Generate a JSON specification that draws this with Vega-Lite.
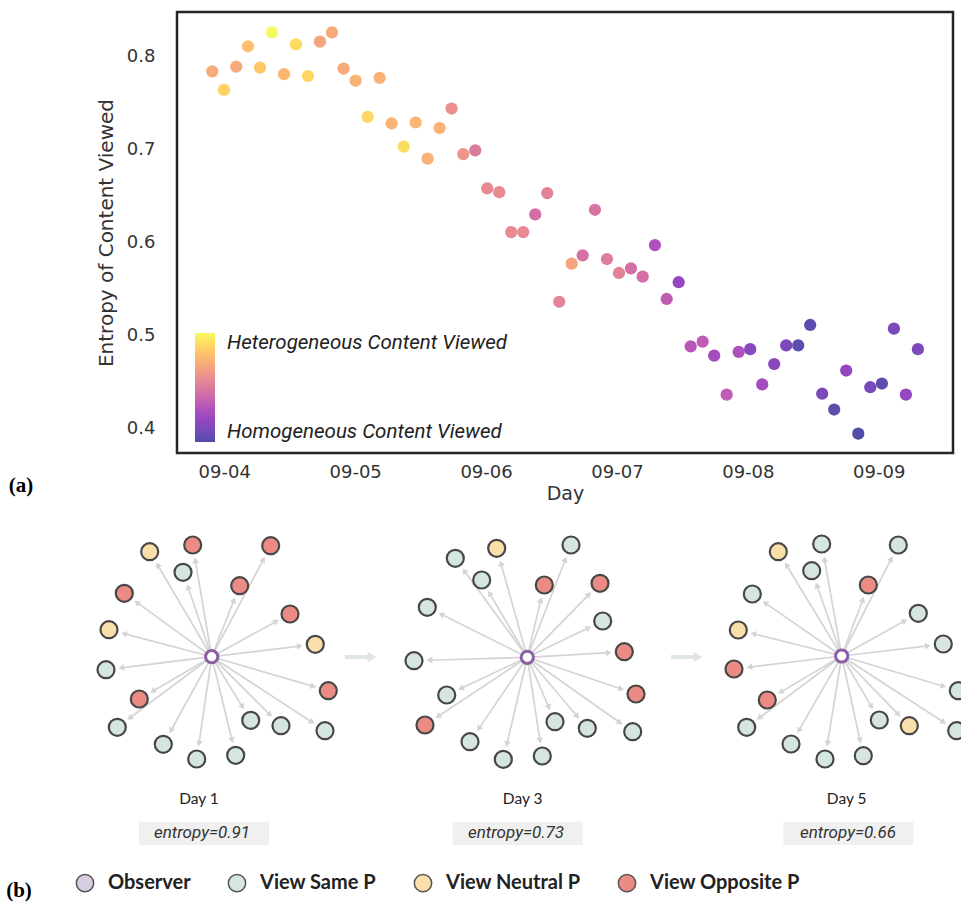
{
  "$schema": "https://vega.github.io/schema/vega-lite/v6.json",
  "width": 776,
  "height": 441,
  "autosize": {"type": "none"},
  "padding": {"left": 177, "top": 12, "right": 8, "bottom": 449},
  "background": "white",
  "config": {"view": {"stroke": "#262626", "strokeWidth": 2.5}, "font": "Roboto"},
  "datasets": {
    "scatter": [
      {"t": "2021-09-03T21:48", "e": 0.784, "c": 0.72},
      {"t": "2021-09-03T23:57", "e": 0.764, "c": 0.87},
      {"t": "2021-09-04T02:12", "e": 0.789, "c": 0.72},
      {"t": "2021-09-04T04:21", "e": 0.811, "c": 0.80},
      {"t": "2021-09-04T06:33", "e": 0.788, "c": 0.83},
      {"t": "2021-09-04T08:45", "e": 0.826, "c": 1.0},
      {"t": "2021-09-04T10:57", "e": 0.781, "c": 0.77},
      {"t": "2021-09-04T13:09", "e": 0.813, "c": 0.90},
      {"t": "2021-09-04T15:21", "e": 0.779, "c": 0.88},
      {"t": "2021-09-04T17:33", "e": 0.816, "c": 0.69},
      {"t": "2021-09-04T19:45", "e": 0.826, "c": 0.72},
      {"t": "2021-09-04T21:53", "e": 0.787, "c": 0.72},
      {"t": "2021-09-05T00:05", "e": 0.774, "c": 0.75},
      {"t": "2021-09-05T02:17", "e": 0.735, "c": 0.88},
      {"t": "2021-09-05T04:29", "e": 0.777, "c": 0.75},
      {"t": "2021-09-05T06:41", "e": 0.728, "c": 0.75},
      {"t": "2021-09-05T08:53", "e": 0.703, "c": 0.90},
      {"t": "2021-09-05T11:05", "e": 0.729, "c": 0.77},
      {"t": "2021-09-05T13:17", "e": 0.690, "c": 0.75},
      {"t": "2021-09-05T15:29", "e": 0.723, "c": 0.75},
      {"t": "2021-09-05T17:41", "e": 0.744, "c": 0.60},
      {"t": "2021-09-05T19:49", "e": 0.695, "c": 0.63},
      {"t": "2021-09-05T22:01", "e": 0.699, "c": 0.50},
      {"t": "2021-09-06T00:13", "e": 0.658, "c": 0.58},
      {"t": "2021-09-06T02:25", "e": 0.654, "c": 0.58},
      {"t": "2021-09-06T04:37", "e": 0.611, "c": 0.58},
      {"t": "2021-09-06T06:49", "e": 0.611, "c": 0.58},
      {"t": "2021-09-06T09:01", "e": 0.630, "c": 0.45},
      {"t": "2021-09-06T11:13", "e": 0.653, "c": 0.54},
      {"t": "2021-09-06T13:25", "e": 0.536, "c": 0.55},
      {"t": "2021-09-06T15:42", "e": 0.577, "c": 0.68},
      {"t": "2021-09-06T17:43", "e": 0.586, "c": 0.46},
      {"t": "2021-09-06T19:58", "e": 0.635, "c": 0.47},
      {"t": "2021-09-06T22:10", "e": 0.582, "c": 0.52},
      {"t": "2021-09-07T00:22", "e": 0.567, "c": 0.54},
      {"t": "2021-09-07T02:34", "e": 0.572, "c": 0.45},
      {"t": "2021-09-07T04:43", "e": 0.563, "c": 0.45},
      {"t": "2021-09-07T06:58", "e": 0.597, "c": 0.30},
      {"t": "2021-09-07T09:07", "e": 0.539, "c": 0.36},
      {"t": "2021-09-07T11:19", "e": 0.557, "c": 0.20},
      {"t": "2021-09-07T13:31", "e": 0.488, "c": 0.33},
      {"t": "2021-09-07T15:43", "e": 0.493, "c": 0.36},
      {"t": "2021-09-07T17:50", "e": 0.478, "c": 0.25},
      {"t": "2021-09-07T20:07", "e": 0.436, "c": 0.36},
      {"t": "2021-09-07T22:19", "e": 0.482, "c": 0.30},
      {"t": "2021-09-08T00:26", "e": 0.485, "c": 0.15},
      {"t": "2021-09-08T02:38", "e": 0.447, "c": 0.25},
      {"t": "2021-09-08T04:50", "e": 0.469, "c": 0.17},
      {"t": "2021-09-08T07:02", "e": 0.489, "c": 0.12},
      {"t": "2021-09-08T09:14", "e": 0.489, "c": 0.03},
      {"t": "2021-09-08T11:26", "e": 0.511, "c": 0.03},
      {"t": "2021-09-08T13:38", "e": 0.437, "c": 0.12},
      {"t": "2021-09-08T15:50", "e": 0.420, "c": 0.03},
      {"t": "2021-09-08T18:02", "e": 0.462, "c": 0.20},
      {"t": "2021-09-08T20:15", "e": 0.394, "c": 0.0},
      {"t": "2021-09-08T22:27", "e": 0.444, "c": 0.10},
      {"t": "2021-09-09T00:35", "e": 0.448, "c": 0.03},
      {"t": "2021-09-09T02:47", "e": 0.507, "c": 0.12},
      {"t": "2021-09-09T04:59", "e": 0.436, "c": 0.20},
      {"t": "2021-09-09T07:11", "e": 0.485, "c": 0.12}
    ],
    "centers": [
      {"panel": 1, "cx": 211.7, "cy": 656.7},
      {"panel": 2, "cx": 527.3, "cy": 657.3},
      {"panel": 3, "cx": 841.7, "cy": 656}
    ],
    "nodes": [
      {"panel": 1, "x": 149.7, "y": 551.7, "type": "View Neutral P"},
      {"panel": 1, "x": 192.7, "y": 545, "type": "View Opposite P"},
      {"panel": 1, "x": 183, "y": 572.3, "type": "View Same P"},
      {"panel": 1, "x": 270.7, "y": 545.7, "type": "View Opposite P"},
      {"panel": 1, "x": 239.7, "y": 585.7, "type": "View Opposite P"},
      {"panel": 1, "x": 124.3, "y": 593.3, "type": "View Opposite P"},
      {"panel": 1, "x": 290, "y": 614, "type": "View Opposite P"},
      {"panel": 1, "x": 109, "y": 629.7, "type": "View Neutral P"},
      {"panel": 1, "x": 315.3, "y": 644.3, "type": "View Neutral P"},
      {"panel": 1, "x": 106, "y": 669.7, "type": "View Same P"},
      {"panel": 1, "x": 139.3, "y": 699, "type": "View Opposite P"},
      {"panel": 1, "x": 328.3, "y": 690.7, "type": "View Opposite P"},
      {"panel": 1, "x": 117.3, "y": 727.3, "type": "View Same P"},
      {"panel": 1, "x": 163.3, "y": 744.3, "type": "View Same P"},
      {"panel": 1, "x": 196.7, "y": 759, "type": "View Same P"},
      {"panel": 1, "x": 235.7, "y": 755.3, "type": "View Same P"},
      {"panel": 1, "x": 250.7, "y": 720.3, "type": "View Same P"},
      {"panel": 1, "x": 281, "y": 725.7, "type": "View Same P"},
      {"panel": 1, "x": 325, "y": 730.7, "type": "View Same P"},
      {"panel": 2, "x": 455.3, "y": 558.3, "type": "View Same P"},
      {"panel": 2, "x": 496.7, "y": 548.3, "type": "View Neutral P"},
      {"panel": 2, "x": 571, "y": 545, "type": "View Same P"},
      {"panel": 2, "x": 481.7, "y": 580, "type": "View Same P"},
      {"panel": 2, "x": 544.3, "y": 585, "type": "View Opposite P"},
      {"panel": 2, "x": 600, "y": 583.3, "type": "View Opposite P"},
      {"panel": 2, "x": 427.3, "y": 607.3, "type": "View Same P"},
      {"panel": 2, "x": 602.7, "y": 621, "type": "View Same P"},
      {"panel": 2, "x": 624.3, "y": 651.7, "type": "View Opposite P"},
      {"panel": 2, "x": 414, "y": 660.7, "type": "View Same P"},
      {"panel": 2, "x": 636, "y": 694, "type": "View Opposite P"},
      {"panel": 2, "x": 446.7, "y": 695, "type": "View Same P"},
      {"panel": 2, "x": 425, "y": 725, "type": "View Opposite P"},
      {"panel": 2, "x": 555, "y": 721.7, "type": "View Same P"},
      {"panel": 2, "x": 587.3, "y": 728.3, "type": "View Same P"},
      {"panel": 2, "x": 632.7, "y": 731.7, "type": "View Same P"},
      {"panel": 2, "x": 470, "y": 741.7, "type": "View Same P"},
      {"panel": 2, "x": 503.3, "y": 759.3, "type": "View Same P"},
      {"panel": 2, "x": 542.3, "y": 756, "type": "View Same P"},
      {"panel": 3, "x": 778.3, "y": 551.7, "type": "View Neutral P"},
      {"panel": 3, "x": 821.7, "y": 544, "type": "View Same P"},
      {"panel": 3, "x": 898.3, "y": 545, "type": "View Same P"},
      {"panel": 3, "x": 811.7, "y": 570.7, "type": "View Same P"},
      {"panel": 3, "x": 868.3, "y": 585, "type": "View Opposite P"},
      {"panel": 3, "x": 752.3, "y": 594, "type": "View Same P"},
      {"panel": 3, "x": 918.3, "y": 613.3, "type": "View Same P"},
      {"panel": 3, "x": 738.3, "y": 630, "type": "View Neutral P"},
      {"panel": 3, "x": 943.3, "y": 644, "type": "View Same P"},
      {"panel": 3, "x": 734, "y": 669, "type": "View Opposite P"},
      {"panel": 3, "x": 958.3, "y": 690.7, "type": "View Same P"},
      {"panel": 3, "x": 767.3, "y": 700, "type": "View Opposite P"},
      {"panel": 3, "x": 746.7, "y": 727.3, "type": "View Same P"},
      {"panel": 3, "x": 879.3, "y": 720, "type": "View Same P"},
      {"panel": 3, "x": 909.3, "y": 725.7, "type": "View Neutral P"},
      {"panel": 3, "x": 956.7, "y": 730.7, "type": "View Same P"},
      {"panel": 3, "x": 791, "y": 744, "type": "View Same P"},
      {"panel": 3, "x": 825, "y": 759, "type": "View Same P"},
      {"panel": 3, "x": 863.3, "y": 755.7, "type": "View Same P"}
    ],
    "panels": [
      {"day": "Day 1", "ent": "entropy=0.91", "lx": 199, "bx1": 139, "bx2": 269, "tx": 202},
      {"day": "Day 3", "ent": "entropy=0.73", "lx": 522.7, "bx1": 452.7, "bx2": 582.7, "tx": 516},
      {"day": "Day 5", "ent": "entropy=0.66", "lx": 846.7, "bx1": 783.3, "bx2": 913.3, "tx": 848}
    ],
    "trans": [
      {"x1": 345, "x2": 372, "y": 657},
      {"x1": 671, "x2": 698, "y": 657}
    ],
    "tags": [
      {"tag": "(a)", "x": 21, "y": 486},
      {"tag": "(b)", "x": 19, "y": 891}
    ]
  },
  "resolve": {"scale": {"x": "independent", "y": "independent"}},
  "layer": [
    {
      "data": {"name": "scatter"},
      "mark": {"type": "circle", "size": 150, "opacity": 1},
      "encoding": {
        "x": {
          "field": "t", "type": "temporal", "title": "Day",
          "scale": {"domain": [
            {"year": 2021, "month": 9, "date": 3, "hours": 15, "minutes": 20},
            {"year": 2021, "month": 9, "date": 9, "hours": 13, "minutes": 37}
          ]},
          "axis": {
            "format": "%m-%d", "tickCount": {"interval": "day", "step": 1},
            "grid": false, "ticks": false, "domain": false, "labelFlush": false,
            "labelFont": "DejaVu Sans", "labelFontSize": 18, "labelFontWeight": "normal", "labelColor": "#333",
            "labelPadding": 10,
            "titleFont": "DejaVu Sans", "titleFontSize": 19, "titleFontWeight": "normal", "titleColor": "#333",
            "titlePadding": 3
          }
        },
        "y": {
          "field": "e", "type": "quantitative", "title": "Entropy of Content Viewed",
          "scale": {"domain": [0.3732, 0.8479], "nice": false, "zero": false},
          "axis": {
            "values": [0.4, 0.5, 0.6, 0.7, 0.8], "format": ".1f",
            "grid": false, "ticks": false, "domain": false, "labelFlush": false,
            "labelFont": "DejaVu Sans", "labelFontSize": 18, "labelFontWeight": "normal", "labelColor": "#333",
            "labelPadding": 22,
            "titleFont": "DejaVu Sans", "titleFontSize": 20, "titleFontWeight": "normal", "titleColor": "#333",
            "titlePadding": 10
          }
        },
        "color": {
          "field": "c", "type": "quantitative",
          "scale": {
            "domain": [0, 0.1, 0.2, 0.3, 0.4, 0.5, 0.6, 0.7, 0.8, 0.9, 1],
            "range": ["#514da9", "#764ab9", "#9447c0", "#ae51bd", "#c766af", "#da7b9e", "#e9908e", "#f6a77d", "#fdbf6e", "#fddc62", "#f4fb5f"]
          },
          "legend": {
            "orient": "none", "legendX": 18, "legendY": 321, "direction": "vertical",
            "gradientLength": 109, "gradientThickness": 20, "gradientStrokeWidth": 0,
            "values": [0, 1],
            "labelExpr": "datum.value > 0.5 ? 'Heterogeneous Content Viewed' : 'Homogeneous Content Viewed'",
            "labelFont": "Roboto", "labelFontStyle": "italic", "labelFontSize": 20.5, "labelColor": "#222",
            "labelOffset": 12, "labelLimit": 400, "title": null, "padding": 0
          }
        }
      }
    },
    {
      "layer": [
        {
          "data": {"name": "nodes"},
          "transform": [
            {"lookup": "panel", "from": {"data": {"name": "centers"}, "key": "panel", "fields": ["cx", "cy"]}},
            {"calculate": "datum.x - datum.cx", "as": "dx"},
            {"calculate": "datum.y - datum.cy", "as": "dy"},
            {"calculate": "sqrt(datum.dx * datum.dx + datum.dy * datum.dy)", "as": "d"},
            {"calculate": "datum.x - datum.dx / datum.d * 15.5", "as": "hx"},
            {"calculate": "datum.y - datum.dy / datum.d * 15.5", "as": "hy"},
            {"calculate": "atan2(datum.dx, -datum.dy) * 180 / PI", "as": "ang"}
          ],
          "layer": [
            {
              "mark": {"type": "rule", "color": "#d4d4d4", "strokeWidth": 1.7},
              "encoding": {
                "x": {"field": "cx", "type": "quantitative", "scale": {"domain": [177, 953], "nice": false, "zero": false}, "axis": null},
                "y": {"field": "cy", "type": "quantitative", "scale": {"domain": [12, 453], "nice": false, "zero": false, "reverse": true}, "axis": null},
                "x2": {"field": "hx"},
                "y2": {"field": "hy"}
              }
            },
            {
              "mark": {"type": "point", "shape": "triangle-up", "filled": true, "color": "#d4d4d4", "size": 45, "opacity": 1},
              "encoding": {
                "x": {"field": "hx", "type": "quantitative", "scale": {"domain": [177, 953], "nice": false, "zero": false}, "axis": null},
                "y": {"field": "hy", "type": "quantitative", "scale": {"domain": [12, 453], "nice": false, "zero": false, "reverse": true}, "axis": null},
                "angle": {"field": "ang", "type": "quantitative", "scale": null}
              }
            }
          ]
        },
        {
          "data": {"name": "trans"},
          "layer": [
            {
              "mark": {"type": "rule", "color": "#dfe5e5", "strokeWidth": 4},
              "encoding": {
                "x": {"field": "x1", "type": "quantitative", "scale": {"domain": [177, 953], "nice": false, "zero": false}, "axis": null},
                "x2": {"field": "x2"},
                "y": {"field": "y", "type": "quantitative", "scale": {"domain": [12, 453], "nice": false, "zero": false, "reverse": true}, "axis": null}
              }
            },
            {
              "mark": {"type": "point", "shape": "triangle-right", "filled": true, "color": "#dfe5e5", "size": 110, "opacity": 1},
              "encoding": {
                "x": {"field": "x2", "type": "quantitative", "scale": {"domain": [177, 953], "nice": false, "zero": false}, "axis": null},
                "y": {"field": "y", "type": "quantitative", "scale": {"domain": [12, 453], "nice": false, "zero": false, "reverse": true}, "axis": null}
              }
            }
          ]
        },
        {
          "data": {"name": "nodes"},
          "mark": {"type": "point", "shape": "circle", "filled": true, "size": 290, "stroke": "#474747", "strokeWidth": 2.2, "opacity": 1},
          "encoding": {
            "x": {"field": "x", "type": "quantitative", "scale": {"domain": [177, 953], "nice": false, "zero": false}, "axis": null},
            "y": {"field": "y", "type": "quantitative", "scale": {"domain": [12, 453], "nice": false, "zero": false, "reverse": true}, "axis": null},
            "fill": {
              "field": "type", "type": "nominal",
              "scale": {"domain": ["Observer", "View Same P", "View Neutral P", "View Opposite P"], "range": ["#d9cde1", "#d5e6df", "#fbdfaa", "#ec8b83"]},
              "legend": {
                "orient": "none", "legendX": -102, "legendY": 861, "direction": "horizontal", "columns": 4,
                "title": null, "symbolType": "circle", "symbolSize": 300, "symbolStrokeColor": "#555", "symbolStrokeWidth": 1.5,
                "symbolOpacity": 1,
                "labelFont": "Lato", "labelFontWeight": "bold", "labelFontSize": 20, "labelColor": "#222",
                "labelOffset": 13, "columnPadding": 34, "labelLimit": 300, "padding": 0
              }
            }
          }
        },
        {
          "data": {"name": "centers"},
          "mark": {"type": "point", "shape": "circle", "filled": true, "fill": "white", "stroke": "#8b60a3", "strokeWidth": 3, "size": 150, "opacity": 1},
          "encoding": {
            "x": {"field": "cx", "type": "quantitative", "scale": {"domain": [177, 953], "nice": false, "zero": false}, "axis": null},
            "y": {"field": "cy", "type": "quantitative", "scale": {"domain": [12, 453], "nice": false, "zero": false, "reverse": true}, "axis": null}
          }
        },
        {
          "data": {"name": "panels"},
          "layer": [
            {
              "mark": {"type": "rect", "color": "#f0f0f0"},
              "encoding": {
                "x": {"field": "bx1", "type": "quantitative", "scale": {"domain": [177, 953], "nice": false, "zero": false}, "axis": null},
                "x2": {"field": "bx2"},
                "y": {"datum": 821.7, "type": "quantitative", "scale": {"domain": [12, 453], "nice": false, "zero": false, "reverse": true}, "axis": null},
                "y2": {"datum": 845}
              }
            },
            {
              "mark": {"type": "text", "font": "Lato", "fontSize": 15.5, "color": "#222", "baseline": "middle", "align": "center"},
              "encoding": {
                "x": {"field": "lx", "type": "quantitative", "scale": {"domain": [177, 953], "nice": false, "zero": false}, "axis": null},
                "y": {"datum": 799.3, "type": "quantitative", "scale": {"domain": [12, 453], "nice": false, "zero": false, "reverse": true}, "axis": null},
                "text": {"field": "day"}
              }
            },
            {
              "mark": {"type": "text", "font": "Roboto", "fontStyle": "italic", "fontSize": 17, "color": "#333", "baseline": "middle", "align": "center"},
              "encoding": {
                "x": {"field": "tx", "type": "quantitative", "scale": {"domain": [177, 953], "nice": false, "zero": false}, "axis": null},
                "y": {"datum": 833.3, "type": "quantitative", "scale": {"domain": [12, 453], "nice": false, "zero": false, "reverse": true}, "axis": null},
                "text": {"field": "ent"}
              }
            }
          ]
        },
        {
          "data": {"name": "tags"},
          "mark": {"type": "text", "font": "Liberation Serif", "fontWeight": "bold", "fontSize": 21, "color": "#000", "baseline": "middle", "align": "center"},
          "encoding": {
            "x": {"field": "x", "type": "quantitative", "scale": {"domain": [177, 953], "nice": false, "zero": false}, "axis": null},
            "y": {"field": "y", "type": "quantitative", "scale": {"domain": [12, 453], "nice": false, "zero": false, "reverse": true}, "axis": null},
            "text": {"field": "tag"}
          }
        }
      ]
    }
  ]
}
